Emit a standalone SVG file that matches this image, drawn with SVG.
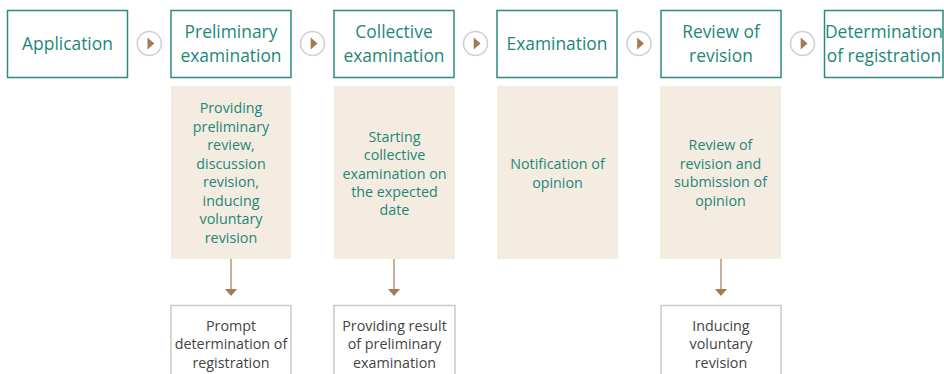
<svg xmlns="http://www.w3.org/2000/svg" width="944" height="374" viewBox="0 0 944 374">
<defs>
<style>
.step{fill:#fff;stroke:#2a8b7f;stroke-width:1.5}
.st{font-family:"Open Sans","Noto Sans",sans-serif;font-size:17.4px;fill:#1d8778;text-anchor:middle}
.panel{fill:#f5ece1}
.pt{font-family:"Open Sans","Noto Sans",sans-serif;font-size:14.3px;fill:#1d8778;text-anchor:middle}
.res{fill:#fff;stroke:#c9c9c9;stroke-width:1.5}
.rt{font-family:"Open Sans","Noto Sans",sans-serif;font-size:14.3px;fill:#444;text-anchor:middle}
.circ{fill:#fff;stroke:#cfcfcf;stroke-width:1.5}
.tri{fill:#a47a52}
.ln{stroke:#b8967a;stroke-width:1.5;fill:none}
.ah{fill:#a47a52}
</style>
</defs>
<g id="application"><rect class="step" x="7.5" y="10.5" width="120" height="67"/><text class="st" x="67.5" y="49.5">Application</text></g>
<g id="preliminary"><rect class="step" x="171" y="10.5" width="120" height="67"/><text class="st" x="231" y="38">Preliminary</text><text class="st" x="231" y="62">examination</text></g>
<g id="collective"><rect class="step" x="334" y="10.5" width="120" height="67"/><text class="st" x="394" y="38">Collective</text><text class="st" x="394" y="62">examination</text></g>
<g id="examination"><rect class="step" x="497" y="10.5" width="120" height="67"/><text class="st" x="557" y="49.5">Examination</text></g>
<g id="review"><rect class="step" x="661" y="10.5" width="120" height="67"/><text class="st" x="721" y="38">Review of</text><text class="st" x="721" y="62">revision</text></g>
<g id="determination"><rect class="step" x="824.5" y="10.5" width="118.5" height="67"/><text class="st" x="884" y="38">Determination</text><text class="st" x="884" y="62">of registration</text></g>

<g id="panel-preliminary"><rect class="panel" x="171" y="86" width="120" height="173"/>
<text class="pt" x="231" y="113.3">Providing</text><text class="pt" x="231" y="131.8">preliminary</text><text class="pt" x="231" y="150.3">review,</text><text class="pt" x="231" y="168.8">discussion</text><text class="pt" x="231" y="187.3">revision,</text><text class="pt" x="231" y="205.8">inducing</text><text class="pt" x="231" y="224.3">voluntary</text><text class="pt" x="231" y="242.8">revision</text></g>
<g id="panel-collective"><rect class="panel" x="334" y="86" width="121" height="173"/>
<text class="pt" x="394.5" y="141.7">Starting</text><text class="pt" x="394.5" y="160.1">collective</text><text class="pt" x="394.5" y="178.5">examination on</text><text class="pt" x="394.5" y="196.9">the expected</text><text class="pt" x="394.5" y="215.3">date</text></g>
<g id="panel-examination"><rect class="panel" x="497" y="86" width="121" height="173"/>
<text class="pt" x="557.5" y="169.3">Notification of</text><text class="pt" x="557.5" y="187.7">opinion</text></g>
<g id="panel-review"><rect class="panel" x="660" y="86" width="121" height="173"/>
<text class="pt" x="720.5" y="150">Review of</text><text class="pt" x="720.5" y="168.5">revision and</text><text class="pt" x="720.5" y="187">submission of</text><text class="pt" x="720.5" y="205.5">opinion</text></g>

<g id="result-prompt"><rect class="res" x="171" y="305.5" width="120" height="80"/>
<text class="rt" x="231" y="330.5">Prompt</text><text class="rt" x="231" y="349">determination of</text><text class="rt" x="231" y="367.5">registration</text></g>
<g id="result-providing"><rect class="res" x="334" y="305.5" width="121" height="80"/>
<text class="rt" x="394.5" y="330.5">Providing result</text><text class="rt" x="394.5" y="349">of preliminary</text><text class="rt" x="394.5" y="367.5">examination</text></g>
<g id="result-inducing"><rect class="res" x="661" y="305.5" width="120" height="80"/>
<text class="rt" x="721" y="330.5">Inducing</text><text class="rt" x="721" y="349">voluntary</text><text class="rt" x="721" y="367.5">revision</text></g>

<g id="connectors">
<circle class="circ" cx="149.3" cy="43.5" r="12"/><path class="tri" d="M147.5 37.5 L147.5 49.5 L154.3 43.5 Z"/>
<circle class="circ" cx="312.5" cy="43.5" r="12"/><path class="tri" d="M310.7 37.5 L310.7 49.5 L317.5 43.5 Z"/>
<circle class="circ" cx="475.5" cy="43.5" r="12"/><path class="tri" d="M473.7 37.5 L473.7 49.5 L480.5 43.5 Z"/>
<circle class="circ" cx="639" cy="43.5" r="12"/><path class="tri" d="M637.2 37.5 L637.2 49.5 L644 43.5 Z"/>
<circle class="circ" cx="802.5" cy="43.5" r="12"/><path class="tri" d="M800.7 37.5 L800.7 49.5 L807.5 43.5 Z"/>
<line class="ln" x1="231" y1="259" x2="231" y2="290"/><path class="ah" d="M225 289 L237 289 L231 296 Z"/>
<line class="ln" x1="394" y1="259" x2="394" y2="290"/><path class="ah" d="M388 289 L400 289 L394 296 Z"/>
<line class="ln" x1="721" y1="259" x2="721" y2="290"/><path class="ah" d="M715 289 L727 289 L721 296 Z"/>
</g>
</svg>
